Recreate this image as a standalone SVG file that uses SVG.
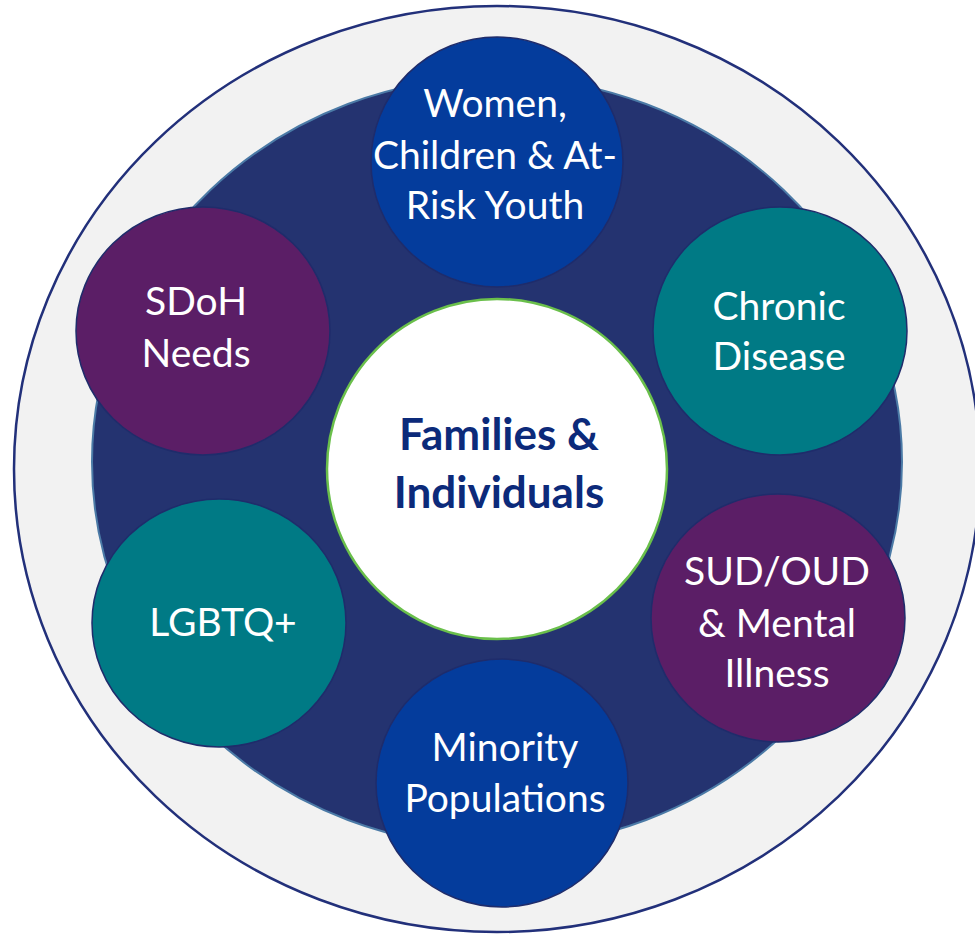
<svg xmlns="http://www.w3.org/2000/svg" width="975" height="936" viewBox="0 0 975 936">
<style>
.sat{stroke:#1f2c6b;stroke-width:1.5}
.blue{fill:#043c9c}
.teal{fill:#007a85}
.purple{fill:#5b1e66}
.lbl{font-family:Lato,"Liberation Sans",sans-serif;font-size:39px;fill:#ffffff;text-anchor:middle}
.ctr{font-family:Lato,"Liberation Sans",sans-serif;font-size:44px;font-weight:bold;fill:#0c2a7a;text-anchor:middle}
</style>
<rect width="975" height="936" fill="#ffffff"/>
<g id="backdrop">
<ellipse cx="497" cy="469" rx="483" ry="463" fill="#f2f2f2" stroke="#22307a" stroke-width="2.5"/>
<ellipse cx="497" cy="462" rx="405" ry="385" fill="#243370" stroke="#4b7aa6" stroke-width="2"/>
</g>
<g id="connectors"></g>
<g id="center">
<circle cx="497" cy="469" r="170" fill="#ffffff" stroke="#6abf4b" stroke-width="2.5"/>
<text class="ctr" x="499" y="450">Families &amp;</text>
<text class="ctr" x="499" y="508">Individuals</text>
</g>
<g id="women">
<ellipse class="sat blue" cx="497" cy="162" rx="126" ry="125"/>
<text class="lbl" x="495" y="117">Women,</text>
<text class="lbl" x="495" y="169">Children &amp; At-</text>
<text class="lbl" x="495" y="219">Risk Youth</text>
</g>
<g id="chronic">
<ellipse class="sat teal" cx="780" cy="331" rx="127" ry="124"/>
<text class="lbl" x="779" y="320">Chronic</text>
<text class="lbl" x="779" y="370">Disease</text>
</g>
<g id="sud">
<ellipse class="sat purple" cx="778" cy="618" rx="127" ry="124"/>
<text class="lbl" x="777" y="585">SUD/OUD</text>
<text class="lbl" x="777" y="637">&amp; Mental</text>
<text class="lbl" x="777" y="687">Illness</text>
</g>
<g id="minority">
<ellipse class="sat blue" cx="502" cy="783" rx="126" ry="124"/>
<text class="lbl" x="505" y="761">Minority</text>
<text class="lbl" x="505" y="812">Populations</text>
</g>
<g id="lgbtq">
<ellipse class="sat teal" cx="219" cy="623" rx="127" ry="124"/>
<text class="lbl" x="223" y="636">LGBTQ+</text>
</g>
<g id="sdoh">
<ellipse class="sat purple" cx="203" cy="331" rx="127" ry="124"/>
<text class="lbl" x="196" y="315">SDoH</text>
<text class="lbl" x="196" y="367">Needs</text>
</g>
</svg>
